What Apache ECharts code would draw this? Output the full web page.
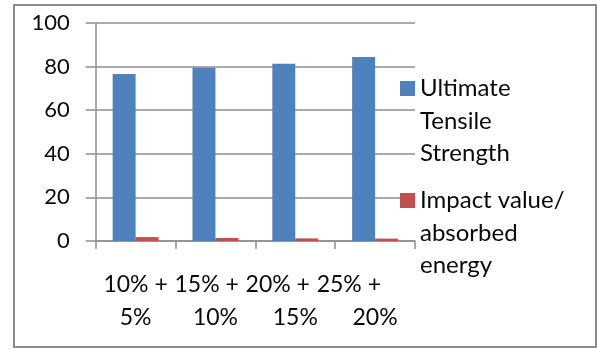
<!DOCTYPE html>
<html>
<head>
<meta charset="utf-8">
<script src="https://cdn.jsdelivr.net/npm/echarts@6/dist/echarts.min.js"></script>
<style>
  html, body { margin: 0; padding: 0; background: #fff; }
  #chart { width: 597px; height: 349px; }
</style>
</head>
<body>
<div id="chart"></div>
<script>
// Mix ratios on the x axis and the two measured properties
const categoryTop = ['10% +', '15% +', '20% +', '25% +'];
const categoryBottom = ['5%', '10%', '15%', '20%'];
const seriesNames = ['Ultimate Tensile Strength', 'Impact value/ absorbed energy'];
const legendLines = [['Ultimate', 'Tensile', 'Strength'], ['Impact value/', 'absorbed', 'energy']];
const tensileStrength = [76.6, 79.5, 81.3, 84.4];
const impactValue = [1.8, 1.4, 1.2, 1.1];
const yTicks = { min: 0, max: 100, interval: 20 };

const categories = categoryTop.map((t, i) => t + '\n' + categoryBottom[i]);

const FONT = 'Lato';
const TEXT_COLOR = '#0a0a0a';
const GRID_COLOR = '#8e8e8e';
const LINE_H = 32.5;

const chart = echarts.init(document.getElementById('chart'), null, { renderer: 'canvas' });

// Each category label: the upper line drifts a little further left per category
const labelRich = { bottom: { fontFamily: FONT, fontSize: 23, lineHeight: 33, color: TEXT_COLOR } };
categoryTop.forEach((_, i) => {
  labelRich['top' + i] = {
    fontFamily: FONT, fontSize: 23, lineHeight: 33, color: TEXT_COLOR,
    padding: [0, 17.5 * i, 0, 0]
  };
});

function legendFor(idx, centerY) {
  // two leading blank lines keep the first text line level with the swatch
  const lines = ['', ''].concat(legendLines[idx]);
  return {
    show: true,
    orient: 'vertical',
    left: 400,
    top: centerY - (lines.length * LINE_H) / 2,
    padding: 0,
    itemWidth: 15,
    itemHeight: 15,
    icon: 'rect',
    selectedMode: false,
    data: [seriesNames[idx]],
    formatter: () => lines.join('\n'),
    textStyle: {
      fontFamily: FONT,
      fontSize: 24,
      color: TEXT_COLOR,
      lineHeight: LINE_H
    }
  };
}

chart.setOption({
  animation: false,
  backgroundColor: '#fff',
  textStyle: { fontFamily: FONT },
  grid: { left: 95.7, right: 182, top: 23, bottom: 108, containLabel: false },
  legend: [legendFor(0, 88.5), legendFor(1, 200.5)],
  xAxis: {
    type: 'category',
    data: categories,
    boundaryGap: true,
    axisLine: { show: true, lineStyle: { color: GRID_COLOR, width: 1.5 } },
    axisTick: { show: true, length: 8, alignWithLabel: false, lineStyle: { color: GRID_COLOR, width: 1.5 } },
    axisLabel: {
      interval: 0,
      margin: 27,
      fontFamily: FONT,
      fontSize: 23,
      lineHeight: 33,
      color: TEXT_COLOR,
      formatter: (value, index) => {
        const parts = value.split('\n');
        return '{top' + index + '|' + parts[0] + '}\n{bottom|' + parts[1] + '}';
      },
      rich: labelRich
    },
    splitLine: { show: false }
  },
  yAxis: {
    type: 'value',
    min: yTicks.min,
    max: yTicks.max,
    interval: yTicks.interval,
    axisLine: { show: true, lineStyle: { color: GRID_COLOR, width: 1.5 } },
    axisTick: { show: true, length: 10, lineStyle: { color: GRID_COLOR, width: 1.5 } },
    axisLabel: {
      margin: 26,
      fontFamily: FONT,
      fontSize: 22,
      color: TEXT_COLOR
    },
    splitLine: { show: true, lineStyle: { color: GRID_COLOR, width: 1.5 } }
  },
  series: [
    {
      name: seriesNames[0],
      type: 'bar',
      data: tensileStrength,
      barGap: '0%',
      barCategoryGap: '42.5%',
      itemStyle: { color: '#4F81BD' }
    },
    {
      name: seriesNames[1],
      type: 'bar',
      data: impactValue,
      barGap: '0%',
      barCategoryGap: '42.5%',
      itemStyle: { color: '#C0504D' }
    }
  ],
  graphic: [
    {
      type: 'rect',
      silent: true,
      shape: { x: 14, y: 5, width: 582, height: 342 },
      style: { fill: null, stroke: '#8c8c8c', lineWidth: 2 }
    }
  ]
});
</script>
</body>
</html>
